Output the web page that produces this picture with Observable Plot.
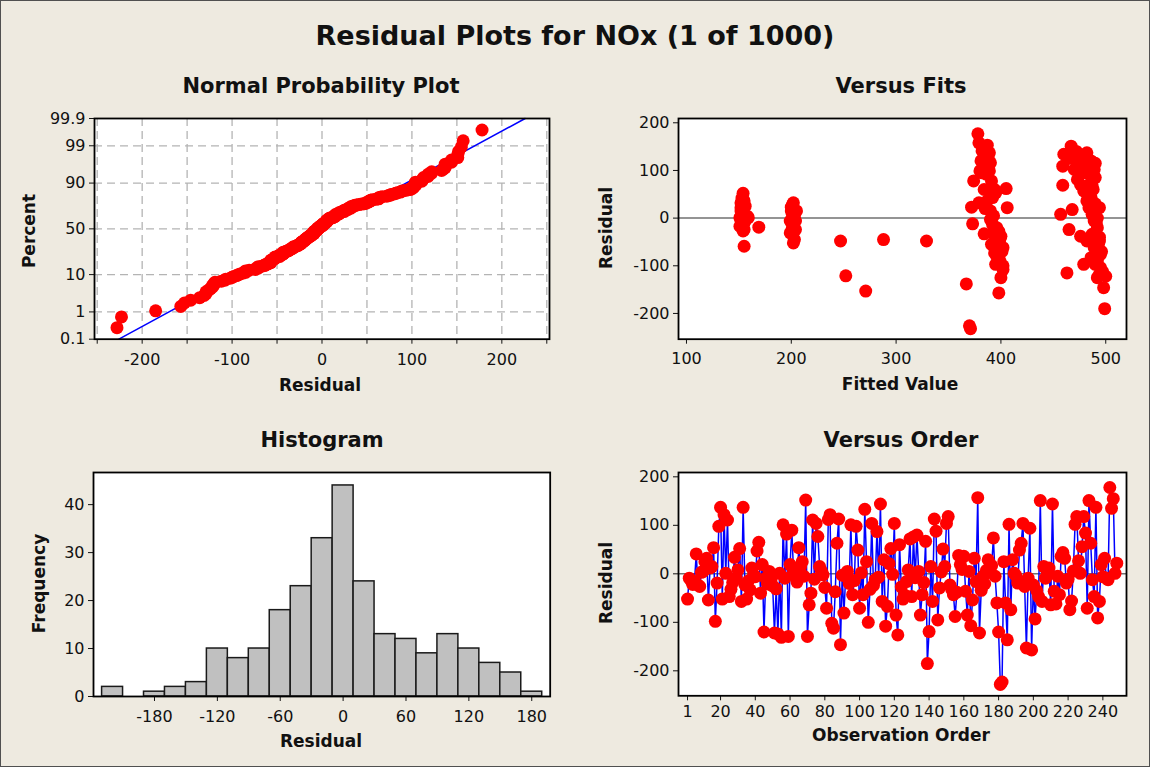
<!DOCTYPE html>
<html><head><meta charset="utf-8">
<script src="https://cdn.jsdelivr.net/npm/d3@7"></script>
<script src="https://cdn.jsdelivr.net/npm/@observablehq/plot@0.6"></script>
<style>
html,body{margin:0;padding:0;background:#EEEAE0;}
#root{position:relative;width:1150px;height:767px;background:#EEEAE0;overflow:hidden;font-family:"DejaVu Sans",sans-serif;}
#border{position:absolute;left:0;top:0;width:1150px;height:767px;box-sizing:border-box;border:1px solid #505050;pointer-events:none;}
</style></head>
<body><div id="root"></div>
<script>
// ---------- DATA ----------
// Residuals in observation order (1..248), read from "Versus Order"
const residuals = [
-52,-9,-14,-22,-16,41,-23,-26,3,5,
25,32,-54,12,15,54,-98,-19,98,137,
-52,122,1,111,-47,-32,-18,34,-9,8,
52,-57,137,-23,-52,-15,-33,12,-2,-6,
47,65,-40,19,-120,-9,-21,5,-13,-25,
-122,-31,-124,1,-131,101,-9,82,-129,19,
90,3,-2,-17,54,14,25,-5,152,-129,
-64,-40,111,-11,104,77,15,6,-2,-28,
-71,112,122,-102,-112,-37,63,113,-146,-3,
-81,-5,5,-20,101,-43,-14,98,49,-71,
2,-43,133,25,-100,-32,104,-24,-12,87,
-7,144,-57,29,-108,-67,21,52,-1,104,
-85,-126,60,-27,-52,-44,-16,8,72,-47,
76,-8,80,5,-85,-43,-18,67,-185,-119,
15,-57,113,88,-95,-29,4,51,15,104,
118,-23,-32,-43,-88,-38,38,19,9,36,
-36,-85,5,-107,-54,32,-16,157,-122,-34,
-5,-21,7,29,8,17,74,-5,-60,-120,
-228,-223,25,-60,-136,102,-74,29,1,-4,
-19,49,63,104,-26,-153,-9,94,-157,-23,
-93,-35,-47,151,-57,15,-9,-2,12,-64,
144,-36,-62,-5,-43,36,44,32,-19,-11,
-74,-56,6,102,118,27,1,56,118,84,
-71,151,63,-12,-47,137,-91,-57,19,-6,
32,-9,-12,178,135,155,1,22
];

// "Versus Fits" points (fitted value, residual)
const fitted = [
154,152,153,155,156,152,155,151,158,152,155,151,153,155,159,155,169,152,156,154,153,154,
202,200,205,201,203,199,202,201,204,203,202,200,204,199,201,203,
247,252,271,288,329,367,371,370,
378,379,387,382,385,381,390,386,380,389,391,374,384,395,405,379,372,390,406,387,390,373,392,384,394,400,397,391,402,394,398,395,402,400,398,394,395,392,386,389,382,394,392,396,398,399,397,401,399,402,396,388,393,385,
467,460,459,465,470,482,486,489,490,476,459,468,457,465,476,463,473,479,486,484,487,489,492,487,494,489,486,490,495,500,498,499,479,492,487,482,494,490,495,482,486,473,488,490,492,491,494,493,496,492,497,494,486,484,490,478,472,464,480,476
];
const fitResid = [
52,32,29,36,25,15,8,1,4,-6,-10,-17,-20,-24,1,-59,-19,22,-6,-27,42,-14,
32,23,15,8,1,-6,-13,-20,-24,-45,-52,15,-6,-31,28,-2,
-48,-121,-153,-45,-48,-138,-232,-226,
177,158,153,141,134,120,116,109,99,99,78,78,60,53,62,32,23,15,22,36,-3,-12,-13,-33,-34,-38,-48,-55,-62,-73,-83,-97,-108,-125,-157,-62,-48,-31,92,137,95,60,43,-20,-28,-45,-58,-70,-90,-100,-80,125,5,20,
151,134,109,130,102,137,120,102,85,113,69,18,8,-24,-38,-115,81,57,43,22,8,-6,-20,-34,-48,-62,-83,-97,-104,-122,-146,-190,-97,-125,67,36,22,-62,-76,-48,92,120,60,30,0,-10,-40,-55,-70,-90,-112,-118,75,100,115,130,140,125,95,70
];

// Histogram (bin centres, counts)
const histCenters = [-220,-200,-180,-160,-140,-120,-100,-80,-60,-40,-20,0,20,40,60,80,100,120,140,160,180];
const histCounts  = [2,0,1,2,3,10,8,10,18,23,33,44,24,13,12,9,13,10,7,5,1];

// Tick labels
const pctTicks = [0.1,1,10,50,90,99,99.9];
const pctLabels = ["0.1","1","10","50","90","99","99.9"];
const pctGrid = [1,10,50,90,99];
const normXTicks = [-250,-200,-150,-100,-50,0,50,100,150,200,250];
const residTicks = [-200,-100,0,100,200];
const fitTicks = [100,200,300,400,500];
const histXTicks = [-180,-120,-60,0,60,120,180];
const histYTicks = [0,10,20,30,40];
const orderTicks = [1,20,40,60,80,100,120,140,160,180,200,220,240];

// ---------- helpers ----------
function qnorm(p){
  const a=[-3.969683028665376e+01,2.209460984245205e+02,-2.759285104469687e+02,1.383577518672690e+02,-3.066479806614716e+01,2.506628277459239e+00];
  const b=[-5.447609879822406e+01,1.615858368580409e+02,-1.556989798598866e+02,6.680131188771972e+01,-1.328068155288572e+01];
  const c=[-7.784894002430293e-03,-3.223964580411365e-01,-2.400758277161838e+00,-2.549732539343734e+00,4.374664141464968e+00,2.938163982698783e+00];
  const d=[7.784695709041462e-03,3.224671290700398e-01,2.445134137142996e+00,3.754408661907416e+00];
  const pl=0.02425, ph=1-pl; let q,r;
  if(p<pl){q=Math.sqrt(-2*Math.log(p));return (((((c[0]*q+c[1])*q+c[2])*q+c[3])*q+c[4])*q+c[5])/((((d[0]*q+d[1])*q+d[2])*q+d[3])*q+1);}
  if(p>ph){q=Math.sqrt(-2*Math.log(1-p));return -(((((c[0]*q+c[1])*q+c[2])*q+c[3])*q+c[4])*q+c[5])/((((d[0]*q+d[1])*q+d[2])*q+d[3])*q+1);}
  q=p-0.5;r=q*q;return (((((a[0]*r+a[1])*r+a[2])*r+a[3])*r+a[4])*r+a[5])*q/(((((b[0]*r+b[1])*r+b[2])*r+b[3])*r+b[4])*r+1);
}
const root = document.getElementById("root");
function place(el,left,top){el.style.position="absolute";el.style.left=left+"px";el.style.top=top+"px";root.appendChild(el);}
const baseStyle = {background:"transparent",fontFamily:"DejaVu Sans, sans-serif",fontSize:"16px",color:"#111",overflow:"visible"};
const RED="#FF0000", BLUE="#0000FF", R=6.5;
const fmt = d => String(d);

// ---------- Normal probability plot ----------
const n = residuals.length;
const sorted = residuals.slice().sort(d3.ascending);
const nz = sorted.map((v,i)=>qnorm((i+1-0.3)/(n+0.4)));
const mean = d3.mean(residuals), sd = d3.deviation(residuals);
const zLo = qnorm(0.001), zHi = qnorm(0.999);
const zTicks = pctTicks.map(p=>qnorm(p/100));
const grid = {stroke:"#b4b4b4",strokeOpacity:1,strokeWidth:1.3,strokeDasharray:"8,5"};

place(Plot.plot({
  width:535,height:275.7,marginLeft:70,marginRight:10,marginTop:10,marginBottom:45,
  style:baseStyle,
  x:{domain:[-253,253],ticks:normXTicks,tickFormat:d=>d%100===0?fmt(d):"",tickSize:5,tickPadding:9,label:null},
  y:{domain:[zLo,zHi],ticks:zTicks,tickFormat:d=>pctLabels[zTicks.indexOf(d)],tickSize:5,tickPadding:4,label:null},
  marks:[
    Plot.frame({fill:"white"}),
    Plot.ruleX(normXTicks,grid),
    Plot.ruleY(pctGrid.map(p=>qnorm(p/100)),grid),
    Plot.line([zLo,zHi],{x:z=>mean+sd*z,y:z=>z,stroke:BLUE,strokeWidth:1.5}),
    Plot.dot(sorted,{x:d=>d,y:nz,r:R,fill:RED}),
    Plot.frame({stroke:"#000",strokeWidth:1.8})
  ]
}),24.3,108.3);

// ---------- Versus fits ----------
place(Plot.plot({
  width:528,height:275.7,marginLeft:70,marginRight:10,marginTop:10,marginBottom:45,
  style:baseStyle,
  x:{domain:[92.4,519.8],ticks:fitTicks,tickFormat:fmt,tickSize:5,tickPadding:8,label:null},
  y:{domain:[-254,209],ticks:residTicks,tickFormat:fmt,tickSize:5,tickPadding:4,label:null},
  marks:[
    Plot.frame({fill:"white"}),
    Plot.ruleY([0],{stroke:"#707070",strokeWidth:1.5}),
    Plot.dot(fitted,{x:d=>d,y:fitResid,r:R,fill:RED}),
    Plot.frame({stroke:"#000",strokeWidth:1.8})
  ]
}),607.7,108.3);

// ---------- Histogram ----------
place(Plot.plot({
  width:536.7,height:279,marginLeft:70,marginRight:10,marginTop:10,marginBottom:45,
  style:baseStyle,
  x:{domain:[-238.2,197.6],ticks:histXTicks,tickFormat:fmt,tickSize:5,tickPadding:9,label:null},
  y:{domain:[0,46.7],ticks:histYTicks,tickFormat:fmt,tickSize:5,tickPadding:4,label:null},
  marks:[
    Plot.frame({fill:"white"}),
    Plot.rectY(histCenters,{x1:c=>c-10,x2:c=>c+10,y1:0,y2:histCounts,fill:"#C0C0C0",stroke:"#1a1a1a",strokeWidth:1.5}),
    Plot.frame({stroke:"#000",strokeWidth:1.8})
  ]
}),23.3,461.7);

// ---------- Versus order ----------
const obs = residuals.map((d,i)=>i+1);
place(Plot.plot({
  width:528,height:278.3,marginLeft:70,marginRight:10,marginTop:10,marginBottom:45,
  style:baseStyle,
  x:{domain:[-4.2,253.6],ticks:orderTicks,tickFormat:fmt,tickSize:5,tickPadding:5,label:null},
  y:{domain:[-251.5,208.9],ticks:residTicks,tickFormat:fmt,tickSize:5,tickPadding:4,label:null},
  marks:[
    Plot.frame({fill:"white"}),
    Plot.ruleY([0],{stroke:"#707070",strokeWidth:1.5}),
    Plot.line(residuals,{x:obs,y:d=>d,stroke:BLUE,strokeWidth:1.5}),
    Plot.dot(residuals,{x:obs,y:d=>d,r:R,fill:RED}),
    Plot.frame({stroke:"#000",strokeWidth:1.8})
  ]
}),607.7,461.7);

// ---------- Titles and axis labels ----------
const ov = d3.select(root).append("svg").attr("width",1150).attr("height",767)
  .style("position","absolute").style("left","0px").style("top","0px")
  .style("font-family","DejaVu Sans, sans-serif").style("pointer-events","none");
function txt(x,y,s,size,rot){
  const t = ov.append("text").attr("text-anchor","middle").attr("font-size",size).attr("font-weight","bold").attr("fill","#111").text(s);
  if(rot) t.attr("transform",`translate(${x},${y}) rotate(-90)`); else t.attr("x",x).attr("y",y);
}
txt(575,45,"Residual Plots for NOx (1 of 1000)",27);
txt(321,93,"Normal Probability Plot",21);
txt(901,93,"Versus Fits",21);
txt(322,447,"Histogram",21);
txt(901,447,"Versus Order",21);
txt(320,390.5,"Residual",17);
txt(900,390,"Fitted Value",17);
txt(321,747,"Residual",17);
txt(901,741,"Observation Order",17);
txt(35,231,"Percent",17,true);
txt(612,228,"Residual",17,true);
txt(45,583.5,"Frequency",17,true);
txt(612,583,"Residual",17,true);

const b = document.createElement("div"); b.id="border"; root.appendChild(b);
</script>
</body></html>
